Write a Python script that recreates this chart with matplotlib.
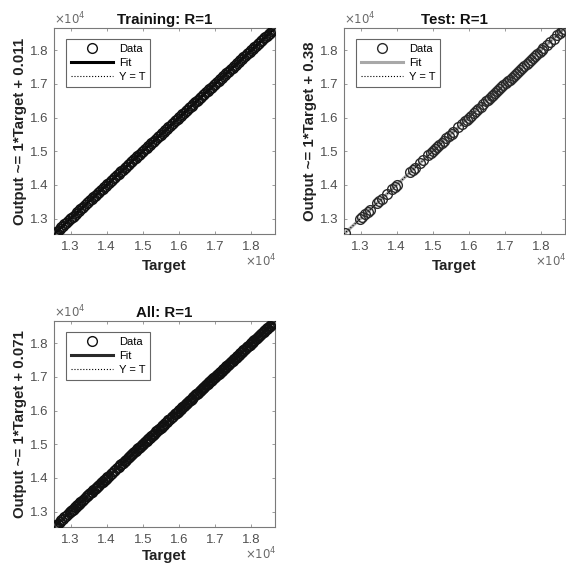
import matplotlib
matplotlib.use("Agg")
import matplotlib.pyplot as plt
from matplotlib.ticker import FuncFormatter

plt.rcParams['font.family'] = ['Liberation Sans', 'DejaVu Sans']

# ---------------- data ----------------
train_target = [12545, 12560, 12590, 12640, 12700, 12735, 12790, 12830, 12880, 12920,
                12975, 13010, 13060, 13090, 13140, 13185, 13230, 13270, 13320, 13355,
                13410, 13450, 13490, 13540, 13580, 13630, 13665, 13710, 13760, 13800,
                13845, 13890, 13930, 13980, 14020, 14065, 14110, 14150, 14195, 14240,
                14280, 14330, 14370, 14410, 14455, 14500, 14540, 14585, 14630, 14670,
                14715, 14760, 14800, 14845, 14890, 14930, 14975, 15020, 15060, 15105,
                15150, 15190, 15235, 15280, 15320, 15365, 15410, 15450, 15495, 15540,
                15580, 15625, 15670, 15710, 15755, 15800, 15840, 15885, 15930, 15970,
                16015, 16060, 16100, 16145, 16190, 16230, 16275, 16320, 16360, 16405,
                16450, 16490, 16535, 16580, 16620, 16665, 16710, 16750, 16795, 16840,
                16880, 16925, 16970, 17010, 17055, 17100, 17140, 17185, 17230, 17270,
                17315, 17360, 17400, 17445, 17490, 17530, 17575, 17620, 17660, 17705,
                17750, 17790, 17835, 17880, 17920, 17965, 18010, 18050, 18095, 18140,
                18180, 18225, 18270, 18310, 18355, 18400, 18440, 18485, 18530, 18570,
                18615, 18650]
train_output = list(train_target)

test_target = [12570, 12990, 13050, 13120, 13200, 13260, 13450, 13520, 13590, 13730,
               13870, 13940, 14000, 14380, 14450, 14510, 14660, 14740, 14880, 14940,
               15000, 15060, 15120, 15180, 15250, 15310, 15380, 15450, 15520, 15570,
               15710, 15800, 15890, 15940, 16000, 16060, 16130, 16200, 16260, 16330,
               16400, 16480, 16530, 16580, 16630, 16680, 16730, 16790, 16840, 16900,
               16960, 17020, 17080, 17130, 17190, 17250, 17310, 17370, 17420, 17480,
               17540, 17600, 17660, 17720, 17780, 17840, 17900, 17960, 18020, 18060,
               18170, 18260, 18350, 18450, 18520, 18590, 18650]
test_output = list(test_target)

all_target = train_target + test_target
all_output = train_output + test_output

titles = ["Training: R=1", "Test: R=1", "All: R=1"]
fit_slope = [1.0, 1.0, 1.0]
fit_intercept = [0.011, 0.38, 0.071]
ylabels = ["Output ~= 1*Target + 0.011", "Output ~= 1*Target + 0.38",
           "Output ~= 1*Target + 0.071"]
xlabel = "Target"
lims = [12540, 18665]
ticks = [13000, 14000, 15000, 16000, 17000, 18000]

# ---------------- figure ----------------
W, H = 566, 564
fig = plt.figure(figsize=(W / 100, H / 100), dpi=100)

def box(l, t, r, b):
    return [l / W, 1 - b / H, (r - l) / W, (b - t) / H]

positions = [box(54, 28, 275, 234), box(344, 28, 565, 234), box(54, 321, 275, 527)]
datasets = [(train_target, train_output), (test_target, test_output),
            (all_target, all_output)]
fit_colors = ['#000000', '#a8a8a8', '#2a2a2a']
mk_edge = ['#111111', '#2a2a2a', '#111111']
xlabel_pads = [4.5, 4.5, 2.0]

for i in range(3):
    ax = fig.add_axes(positions[i])
    tx, ty = datasets[i]
    fx = [lims[0], lims[1]]
    fy = [fit_slope[i] * v + fit_intercept[i] for v in fx]
    ax.plot(fx, fy, color=fit_colors[i], lw=2.2, label='Fit', zorder=2)
    ax.plot(fx, fx, color='k', lw=0.8, ls=':', label='Y = T', zorder=3)
    ax.plot(tx, ty, ls='none', marker='o', ms=7.0, mfc='none', mec=mk_edge[i],
            mew=1.0, label='Data', zorder=4)
    ax.set_xlim(lims)
    ax.set_ylim(lims)
    ax.set_xticks(ticks)
    ax.set_yticks(ticks)
    fmt = FuncFormatter(lambda v, p: f"{v / 1e4:.1f}")
    ax.xaxis.set_major_formatter(fmt)
    ax.yaxis.set_major_formatter(fmt)
    ax.tick_params(direction='in', length=2.5, width=0.6, colors='#8a8a8a',
                   labelcolor='#505050', labelsize=9.5, top=True, right=True)
    ax.tick_params(axis='x', pad=5)
    ax.tick_params(axis='y', pad=4)
    for s in ax.spines.values():
        s.set_color('#7a7a7a')
        s.set_linewidth(0.8)
    ax.set_title(titles[i], fontsize=10.8, fontweight='bold', pad=3, color='#111111')
    ax.set_xlabel(xlabel, fontsize=10.8, fontweight='bold', labelpad=xlabel_pads[i],
                  color='#222222')
    ax.set_ylabel(ylabels[i], fontsize=10.8, fontweight='bold', labelpad=2, color='#222222')
    ax.text(0.0, 1.005, r'$\times10^4$', transform=ax.transAxes, fontsize=8.5,
            color='#6a6a6a', ha='left', va='bottom')
    ax.text(0.865, -0.09, r'$\times10^4$', transform=ax.transAxes, fontsize=8.5,
            color='#6a6a6a', ha='left', va='top')
    h, l = ax.get_legend_handles_labels()
    order = [2, 0, 1]
    leg = ax.legend([h[k] for k in order], [l[k] for k in order], loc='upper left',
                    bbox_to_anchor=(0.055, 0.945), fontsize=8, handlelength=3.8,
                    handletextpad=0.6, borderpad=0.4, labelspacing=0.38,
                    fancybox=False, framealpha=1, edgecolor='#666666',
                    borderaxespad=0)
    leg.get_frame().set_linewidth(0.8)

fig.savefig('out.png', dpi=100)
